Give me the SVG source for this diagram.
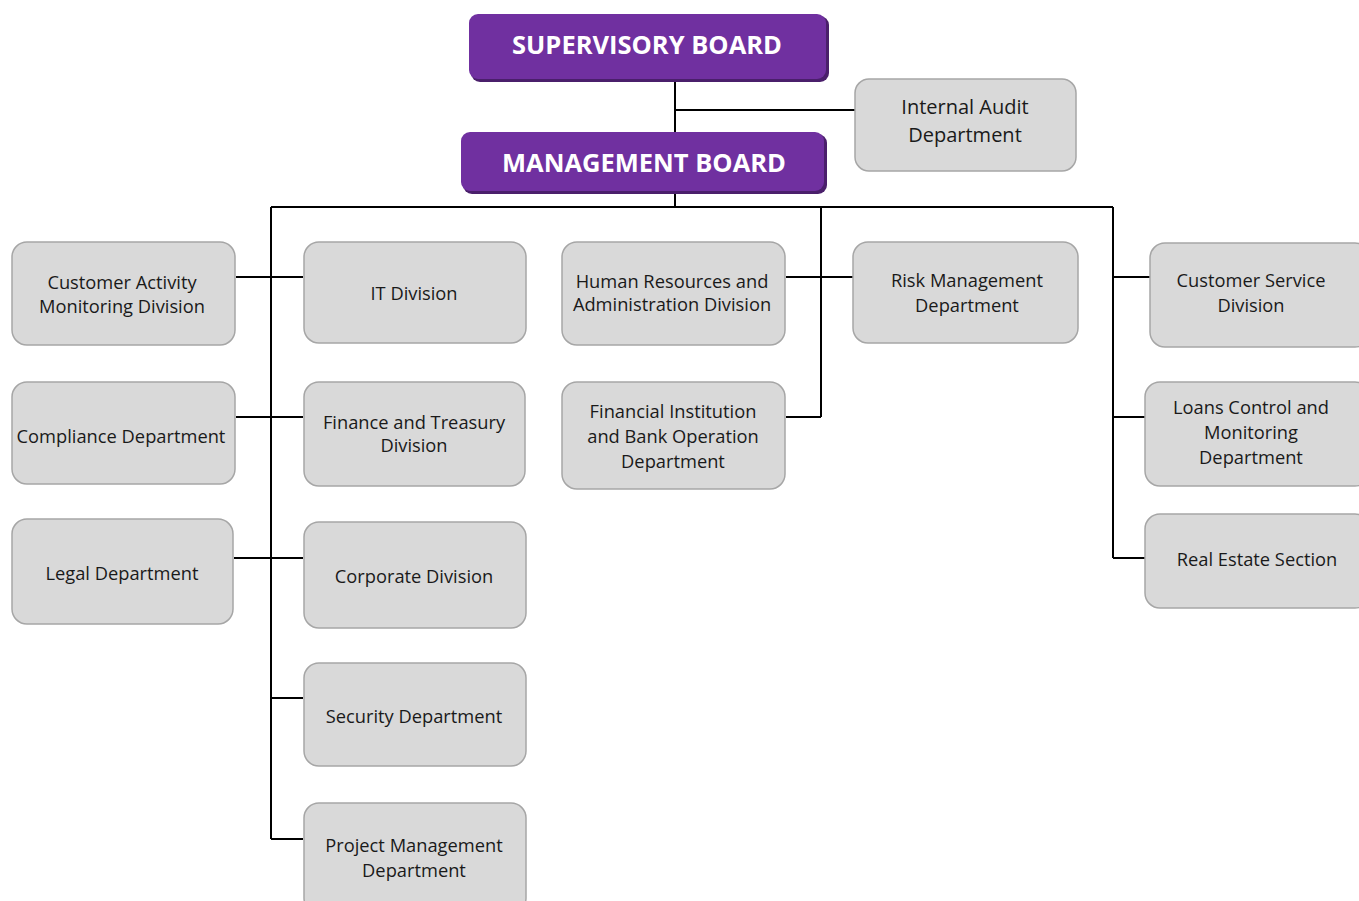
<svg xmlns="http://www.w3.org/2000/svg" width="1359" height="901" viewBox="0 0 1359 901">
<style>
.box{fill:#d9d9d9;stroke:#a6a6a6;stroke-width:1.5}
.t{font-family:"Open Sans","Noto Sans",sans-serif;font-size:18.3px;fill:#1a1a1a;text-anchor:middle}
.big{font-size:20px}
.hb{fill:#7030a0}
.hs{fill:#4a1f6b}
.ht{font-family:"Open Sans","Noto Sans",sans-serif;font-size:25.5px;font-weight:bold;fill:#ffffff;text-anchor:middle}
.c{stroke:#000;stroke-width:2;fill:none}
</style>
<rect width="1359" height="901" fill="#fff"/>
<g id="connectors">
<path class="c" d="M675 80V132M675 110H855M675 192V207M271 207H1113M271 207V839M236 277H303M236 417H303M234 558H303M271 698H303M271 839H303M821 207V417M786 277H853M786 417H821M1113 207V558M1113 277H1150M1113 417H1145M1113 558H1145"/>
</g>
<g id="supervisory-board">
<rect class="hs" x="471" y="16" width="358" height="66" rx="9"/>
<rect class="hb" x="469" y="14" width="357" height="65" rx="9"/>
<text class="ht" x="647" y="54">SUPERVISORY BOARD</text>
</g>
<g id="management-board">
<rect class="hs" x="463" y="134" width="364" height="60" rx="9"/>
<rect class="hb" x="461" y="132" width="363" height="59" rx="9"/>
<text class="ht" x="644" y="172">MANAGEMENT BOARD</text>
</g>
<g id="internal-audit">
<rect class="box" x="855" y="79" width="221" height="92" rx="14"/>
<text class="t big" x="965" y="114">Internal Audit</text>
<text class="t big" x="965" y="142">Department</text>
</g>
<g id="customer-activity">
<rect class="box" x="12" y="242" width="223" height="103" rx="15"/>
<text class="t" x="122" y="289">Customer Activity</text>
<text class="t" x="122" y="313">Monitoring Division</text>
</g>
<g id="compliance">
<rect class="box" x="12" y="382" width="223" height="102" rx="15"/>
<text class="t" x="121" y="443">Compliance Department</text>
</g>
<g id="legal">
<rect class="box" x="12" y="519" width="221" height="105" rx="15"/>
<text class="t" x="122" y="580">Legal Department</text>
</g>
<g id="it-division">
<rect class="box" x="304" y="242" width="222" height="101" rx="15"/>
<text class="t" x="414" y="300">IT Division</text>
</g>
<g id="finance-treasury">
<rect class="box" x="304" y="382" width="221" height="104" rx="15"/>
<text class="t" x="414" y="429">Finance and Treasury</text>
<text class="t" x="414" y="452">Division</text>
</g>
<g id="corporate">
<rect class="box" x="304" y="522" width="222" height="106" rx="15"/>
<text class="t" x="414" y="583">Corporate Division</text>
</g>
<g id="security">
<rect class="box" x="304" y="663" width="222" height="103" rx="15"/>
<text class="t" x="414" y="723">Security Department</text>
</g>
<g id="project-management">
<rect class="box" x="304" y="803" width="222" height="110" rx="15"/>
<text class="t" x="414" y="852">Project Management</text>
<text class="t" x="414" y="877">Department</text>
</g>
<g id="human-resources">
<rect class="box" x="562" y="242" width="223" height="103" rx="15"/>
<text class="t" x="672" y="288">Human Resources and</text>
<text class="t" x="672" y="311">Administration Division</text>
</g>
<g id="financial-institution">
<rect class="box" x="562" y="382" width="223" height="107" rx="15"/>
<text class="t" x="673" y="418">Financial Institution</text>
<text class="t" x="673" y="443">and Bank Operation</text>
<text class="t" x="673" y="468">Department</text>
</g>
<g id="risk-management">
<rect class="box" x="853" y="242" width="225" height="101" rx="15"/>
<text class="t" x="967" y="287">Risk Management</text>
<text class="t" x="967" y="312">Department</text>
</g>
<g id="customer-service">
<rect class="box" x="1150" y="243" width="220" height="104" rx="15"/>
<text class="t" x="1251" y="287">Customer Service</text>
<text class="t" x="1251" y="312">Division</text>
</g>
<g id="loans-control">
<rect class="box" x="1145" y="382" width="225" height="104" rx="15"/>
<text class="t" x="1251" y="414">Loans Control and</text>
<text class="t" x="1251" y="439">Monitoring</text>
<text class="t" x="1251" y="464">Department</text>
</g>
<g id="real-estate">
<rect class="box" x="1145" y="514" width="225" height="94" rx="15"/>
<text class="t" x="1257" y="566">Real Estate Section</text>
</g>
</svg>
